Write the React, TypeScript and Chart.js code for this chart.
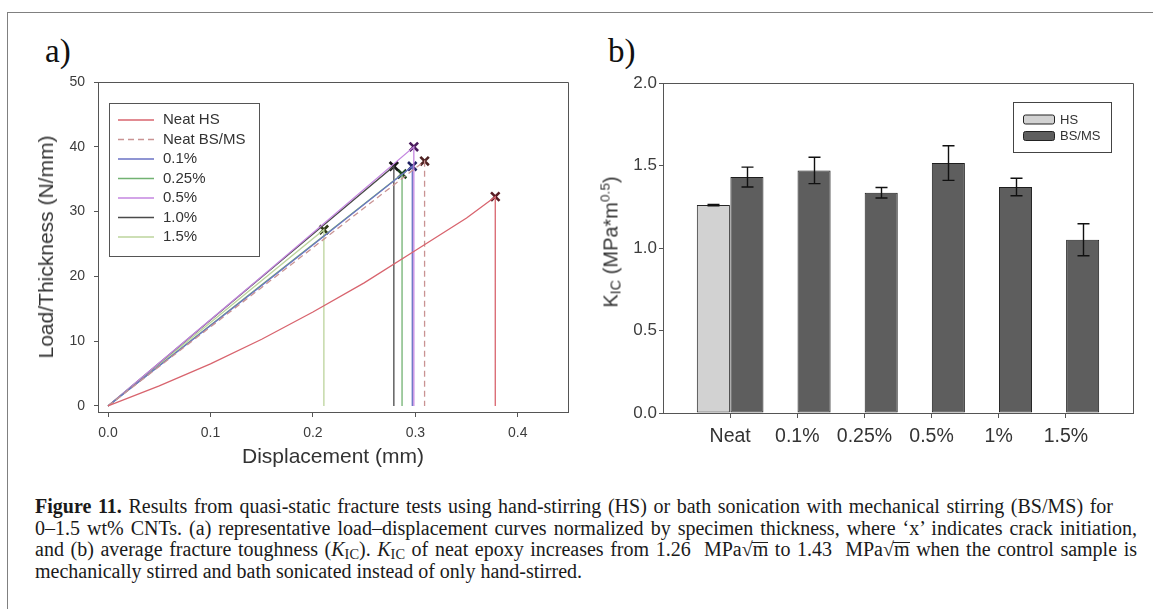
import React, { useEffect, useRef } from 'react';
import { Chart, registerables } from 'chart.js';

Chart.register(...registerables);

const SANS = '"Liberation Sans", Arial, Helvetica, sans-serif';
const SERIF = '"Liberation Serif", "Times New Roman", serif';

// ---------- (a) load–displacement curves ----------
const seriesNames = ['Neat HS', 'Neat BS/MS', '0.1%', '0.25%', '0.5%', '1.0%', '1.5%'];
const seriesColors = ['#d8646e', '#c99393', '#6a72c4', '#72b272', '#c486e0', '#4a4a4a', '#bcd49c'];
const crackColors = ['#5a1c24', '#4e2222', '#1e2060', '#1e461e', '#4a1c5c', '#151515', '#2e3a16'];

// displacement (mm) / load per thickness (N/mm)
const neatHsDisp = [0, 0.05, 0.1, 0.15, 0.2, 0.25, 0.3, 0.35, 0.378, 0.378];
const neatHsLoad = [0, 3.1, 6.5, 10.3, 14.5, 19.0, 24.0, 29.0, 32.3, 0];
const neatBsDisp = [0, 0.15, 0.309, 0.309];
const neatBsLoad = [0, 18.3, 37.8, 0];
const cnt01Disp = [0, 0.15, 0.297, 0.297];
const cnt01Load = [0, 18.6, 37.0, 0];
const cnt025Disp = [0, 0.15, 0.287, 0.287];
const cnt025Load = [0, 18.7, 35.8, 0];
const cnt05Disp = [0, 0.15, 0.2985, 0.2985];
const cnt05Load = [0, 20.0, 40.0, 0];
const cnt10Disp = [0, 0.15, 0.279, 0.279];
const cnt10Load = [0, 19.9, 37.0, 0];
const cnt15Disp = [0, 0.1, 0.2107, 0.2107];
const cnt15Load = [0, 12.9, 27.2, 0];

// crack initiation points ('x')
const crackDisp = [0.378, 0.309, 0.297, 0.287, 0.2985, 0.279, 0.2107];
const crackLoad = [32.3, 37.8, 37.0, 35.8, 40.0, 37.0, 27.2];

const dispTicks = [0, 0.1, 0.2, 0.3, 0.4];
const loadTicks = [0, 10, 20, 30, 40, 50];

// ---------- (b) fracture toughness ----------
const categories = ['Neat', '0.1%', '0.25%', '0.5%', '1%', '1.5%'];
const hsKic = [1.26, null, null, null, null, null];
const hsErr = [0.004, 0, 0, 0, 0, 0];
const bsKic = [1.43, 1.47, 1.335, 1.515, 1.37, 1.05];
const bsErr = [0.06, 0.08, 0.032, 0.105, 0.053, 0.097];
const kicTicks = [0, 0.5, 1.0, 1.5, 2.0];

const curveSets = [
  [neatHsDisp, neatHsLoad],
  [neatBsDisp, neatBsLoad],
  [cnt01Disp, cnt01Load],
  [cnt025Disp, cnt025Load],
  [cnt05Disp, cnt05Load],
  [cnt10Disp, cnt10Load],
  [cnt15Disp, cnt15Load],
];

const AXIS = '#555';
const TICK_TXT = '#3c3c3c';

// draws the top and right edges of the plot frame
const frameBox = {
  id: 'frameBox',
  afterDraw(chart: any) {
    const { ctx, chartArea: a } = chart;
    ctx.save();
    ctx.strokeStyle = AXIS;
    ctx.lineWidth = 1;
    ctx.beginPath();
    ctx.moveTo(Math.round(a.left) + 0.5, Math.round(a.top) + 0.5);
    ctx.lineTo(Math.round(a.right) + 0.5, Math.round(a.top) + 0.5);
    ctx.lineTo(Math.round(a.right) + 0.5, Math.round(a.bottom) + 0.5);
    ctx.stroke();
    ctx.restore();
  },
};

const curveLegend = {
  id: 'curveLegend',
  afterDraw(chart: any) {
    const { ctx, chartArea: a } = chart;
    ctx.save();
    const bx = Math.round(a.left + 11) + 0.5;
    const by = Math.round(a.top + 21) + 0.5;
    ctx.strokeStyle = '#555';
    ctx.lineWidth = 1;
    ctx.strokeRect(bx, by, 150, 153);
    ctx.font = `15px ${SANS}`;
    ctx.textBaseline = 'middle';
    ctx.fillStyle = '#333';
    seriesNames.forEach((name, i) => {
      const y = a.top + 38 + i * 19.5;
      ctx.strokeStyle = seriesColors[i];
      ctx.lineWidth = 1.4;
      ctx.setLineDash(i === 1 ? [6, 4] : []);
      ctx.beginPath();
      ctx.moveTo(a.left + 20, y);
      ctx.lineTo(a.left + 56, y);
      ctx.stroke();
      ctx.setLineDash([]);
      ctx.fillText(name, a.left + 65, y);
    });
    ctx.restore();
  },
};

const barLegend = {
  id: 'barLegend',
  afterDraw(chart: any) {
    const { ctx, chartArea: a } = chart;
    ctx.save();
    ctx.strokeStyle = '#444';
    ctx.lineWidth = 1;
    ctx.strokeRect(Math.round(a.left + 350) + 0.5, Math.round(a.top + 19) + 0.5, 98, 50);
    ctx.font = `13px ${SANS}`;
    ctx.textBaseline = 'middle';
    chart.data.datasets.forEach((ds: any, i: number) => {
      const y = a.top + 36.5 + i * 16.5;
      ctx.fillStyle = ds.backgroundColor;
      ctx.strokeStyle = '#222';
      ctx.beginPath();
      (ctx as any).roundRect(a.left + 360.5, y - 4.5, 31, 9, 2);
      ctx.fill();
      ctx.stroke();
      ctx.fillStyle = '#333';
      ctx.fillText(ds.label, a.left + 397, y + 0.5);
    });
    ctx.restore();
  },
};

const errorBars = {
  id: 'errorBars',
  afterDatasetsDraw(chart: any) {
    const { ctx } = chart;
    const yScale = chart.scales.y;
    ctx.save();
    ctx.strokeStyle = '#111';
    ctx.lineWidth = 1.4;
    chart.data.datasets.forEach((ds: any, di: number) => {
      const meta = chart.getDatasetMeta(di);
      meta.data.forEach((bar: any, i: number) => {
        const v = ds.data[i];
        const e = ds.errors ? ds.errors[i] : 0;
        if (v == null || !e) return;
        const yt = yScale.getPixelForValue(v + e);
        const yb = yScale.getPixelForValue(v - e);
        const x = Math.round(bar.x) + 0.5;
        ctx.beginPath();
        ctx.moveTo(x, yt);
        ctx.lineTo(x, yb);
        ctx.moveTo(x - 6, yt);
        ctx.lineTo(x + 6, yt);
        ctx.moveTo(x - 6, yb);
        ctx.lineTo(x + 6, yb);
        ctx.stroke();
      });
    });
    ctx.restore();
  },
};

function LoadChart() {
  const ref = useRef<HTMLCanvasElement | null>(null);
  useEffect(() => {
    if (!ref.current) return;
    const datasets: any[] = curveSets.map(([d, l], i) => ({
      label: seriesNames[i],
      data: d.map((x, k) => ({ x, y: l[k] })),
      borderColor: seriesColors[i],
      borderWidth: 1.3,
      borderDash: i === 1 ? [6, 4] : [],
      pointRadius: 0,
      fill: false,
      tension: 0,
    }));
    datasets.push({
      label: 'crack initiation',
      data: crackDisp.map((x, k) => ({ x, y: crackLoad[k] })),
      showLine: false,
      pointStyle: 'crossRot',
      pointRadius: 6,
      pointBorderWidth: 2.6,
      pointBorderColor: crackColors,
      pointBackgroundColor: crackColors,
    });
    const chart = new Chart(ref.current, {
      type: 'line',
      data: { datasets },
      options: {
        animation: false,
        responsive: false,
        events: [],
        layout: { autoPadding: false, padding: { left: 0, top: 22, right: 22, bottom: 0 } } as any,
        plugins: { legend: { display: false }, tooltip: { enabled: false } },
        scales: {
          x: {
            type: 'linear',
            min: -0.0098,
            max: 0.449,
            afterBuildTicks: (s: any) => { s.ticks = dispTicks.map((value) => ({ value })); },
            afterFit: (s: any) => { s.height = 68; },
            grid: { drawOnChartArea: false, drawTicks: true, tickLength: 5, color: AXIS },
            border: { display: true, color: AXIS, width: 1 },
            ticks: {
              color: TICK_TXT, padding: 8, autoSkip: false, maxRotation: 0,
              font: { size: 14, family: SANS },
              callback: (v: any) => Number(v).toFixed(1),
            },
          },
          y: {
            type: 'linear',
            min: -0.93,
            max: 50,
            afterBuildTicks: (s: any) => { s.ticks = loadTicks.map((value) => ({ value })); },
            afterFit: (s: any) => { s.width = 98; },
            grid: { drawOnChartArea: false, drawTicks: true, tickLength: 4, color: AXIS },
            border: { display: true, color: AXIS, width: 1 },
            ticks: {
              color: TICK_TXT, padding: 9, autoSkip: false,
              font: { size: 14, family: SANS },
              callback: (v: any) => String(v),
            },
          },
        },
      },
      plugins: [frameBox, curveLegend],
    });
    return () => chart.destroy();
  }, []);
  return <canvas ref={ref} width={590} height={420} style={{ position: 'absolute', left: 0, top: 60 }} />;
}

function ToughnessChart() {
  const ref = useRef<HTMLCanvasElement | null>(null);
  useEffect(() => {
    if (!ref.current) return;
    const pad = (arr: any[]) => [null, ...arr, null];
    const labels = ['', ...categories, ''];
    const last = labels.length - 1;
    const chart = new Chart(ref.current, {
      type: 'bar',
      data: {
        labels,
        datasets: [
          {
            label: 'HS', data: pad(hsKic), errors: pad(hsErr),
            backgroundColor: '#d2d2d2', borderColor: '#262626', borderWidth: 1, borderSkipped: false,
            categoryPercentage: 1, barPercentage: 0.985,
          } as any,
          {
            label: 'BS/MS', data: pad(bsKic), errors: pad(bsErr),
            backgroundColor: '#5e5e5e', borderColor: '#1e1e1e', borderWidth: 1, borderSkipped: false,
            categoryPercentage: 1, barPercentage: 0.985,
          } as any,
        ],
      },
      options: {
        animation: false,
        responsive: false,
        events: [],
        layout: { autoPadding: false, padding: { left: 0, top: 23, right: 20, bottom: 0 } } as any,
        plugins: { legend: { display: false }, tooltip: { enabled: false } },
        scales: {
          x: {
            type: 'category',
            offset: false,
            afterFit: (s: any) => { s.height = 67; },
            grid: {
              offset: false, drawOnChartArea: false, drawTicks: true, tickLength: 5, color: AXIS,
              tickColor: (c: any) => (c.index === 0 || c.index === last ? 'rgba(0,0,0,0)' : AXIS),
            } as any,
            border: { display: true, color: AXIS, width: 1 },
            ticks: {
              color: '#333', padding: 7, autoSkip: false, maxRotation: 0,
              font: { size: 19.5, family: SANS },
            },
          },
          y: {
            type: 'linear',
            min: 0,
            max: 2,
            afterBuildTicks: (s: any) => { s.ticks = kicTicks.map((value) => ({ value })); },
            afterFit: (s: any) => { s.width = 83; },
            grid: { drawOnChartArea: false, drawTicks: true, tickLength: 4, color: AXIS },
            border: { display: true, color: AXIS, width: 1 },
            ticks: {
              color: TICK_TXT, padding: 2, autoSkip: false,
              font: { size: 17, family: SANS },
              callback: (v: any) => Number(v).toFixed(1),
            },
          },
        },
      },
      plugins: [frameBox, errorBars, barLegend],
    });
    return () => chart.destroy();
  }, []);
  return <canvas ref={ref} width={573} height={420} style={{ position: 'absolute', left: 580, top: 60 }} />;
}

const abs = (left: number, top: number): React.CSSProperties => ({ position: 'absolute', left, top });
const sub: React.CSSProperties = { fontSize: '0.72em', verticalAlign: '-0.22em', lineHeight: 0 };
const sup: React.CSSProperties = { fontSize: '0.68em', verticalAlign: '0.62em', lineHeight: 0 };

// square root of metre, with the vinculum drawn over the m
function RootM() {
  return (
    <>
      √<span style={{ position: 'relative' }}>
        m
        <span style={{ position: 'absolute', left: -1, right: 0, top: '0.19em', borderTop: '1px solid #1a1a1a' }} />
      </span>
    </>
  );
}

export default function App() {
  const capLine = (top: number, width?: number): React.CSSProperties => ({
    position: 'absolute', left: 35, top, width,
    textAlign: width ? 'justify' : 'left',
    textAlignLast: width ? 'justify' : 'auto',
    whiteSpace: width ? 'normal' : 'nowrap',
    lineHeight: '22px',
  } as React.CSSProperties);
  return (
    <div style={{ position: 'absolute', left: 0, top: 0, width: 1153, height: 609, overflow: 'hidden', background: '#fff' }}>
      <div style={{ position: 'absolute', left: 7, top: 12, width: 1300, height: 800, border: '1.5px solid #808080' }} />

      <div style={{ ...abs(45, 35), fontFamily: SERIF, fontSize: 33, lineHeight: 1, color: '#111' }}>a)</div>
      <div style={{ ...abs(608, 35), fontFamily: SERIF, fontSize: 33, lineHeight: 1, color: '#111' }}>b)</div>

      <LoadChart />
      <ToughnessChart />

      <div style={{ ...abs(46, 247), transform: 'translate(-50%, -50%) rotate(-90deg)', whiteSpace: 'nowrap', fontFamily: SANS, fontSize: 21, color: '#333' }}>
        Load/Thickness (N/mm)
      </div>
      <div style={{ ...abs(333, 456), transform: 'translate(-50%, -50%)', whiteSpace: 'nowrap', fontFamily: SANS, fontSize: 21, color: '#333' }}>
        Displacement (mm)
      </div>
      <div style={{ ...abs(611, 242), transform: 'translate(-50%, -50%) rotate(-90deg)', whiteSpace: 'nowrap', fontFamily: SANS, fontSize: 20, color: '#333' }}>
        K<span style={sub}>IC</span> (MPa*m<span style={sup}>0.5</span>)
      </div>

      <div style={{ fontFamily: SERIF, fontSize: 20, color: '#1a1a1a' }}>
        <div style={capLine(495, 1078)}>
          <b>Figure 11.</b> Results from quasi-static fracture tests using hand-stirring (HS) or bath sonication with mechanical stirring (BS/MS) for
        </div>
        <div style={capLine(516.5, 1102)}>
          0–1.5 wt% CNTs. (a) representative load–displacement curves normalized by specimen thickness, where ‘x’ indicates crack initiation,
        </div>
        <div style={capLine(538, 1102)}>
          and (b) average fracture toughness (<i>K</i><span style={sub}>IC</span>). <i>K</i><span style={sub}>IC</span> of neat epoxy increases from 1.26&nbsp; MPa<RootM /> to 1.43&nbsp; MPa<RootM /> when the control sample is
        </div>
        <div style={capLine(559.5)}>
          mechanically stirred and bath sonicated instead of only hand-stirred.
        </div>
      </div>
    </div>
  );
}
